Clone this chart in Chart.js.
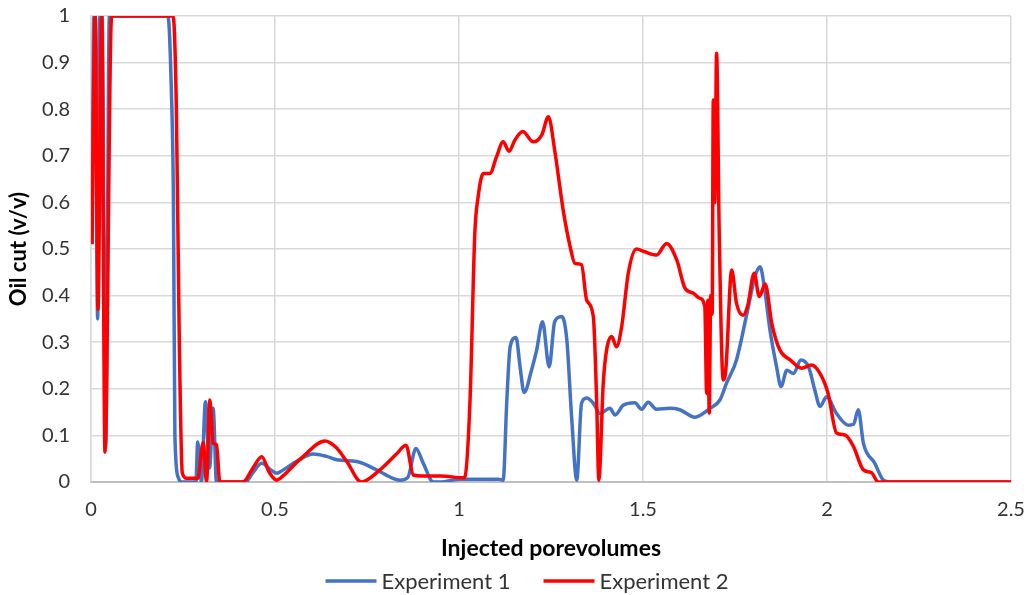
<!DOCTYPE html>
<html>
<head>
<meta charset="utf-8">
<script src="https://cdn.jsdelivr.net/npm/chart.js@4/dist/chart.umd.min.js"></script>
<style>
  html, body { margin: 0; padding: 0; background: #ffffff; }
  #wrap { width: 1027px; height: 595px; }
</style>
</head>
<body>
<div id="wrap"><canvas id="c" width="1027" height="595"></canvas></div>
<script>
// Injected porevolumes (x) and oil cut (y) for each experiment
const exp1X = [0.003,0.008,0.012,0.018,0.024,0.03,0.04,0.05,0.06,0.1,0.15,0.209,0.218,0.224,0.228,0.237,0.245,0.28,0.285,0.29,0.30,0.311,0.322,0.332,0.341,0.42,0.44,0.464,0.49,0.505,0.514,0.56,0.604,0.64,0.672,0.722,0.776,0.82,0.84,0.861,0.883,0.903,0.93,0.948,1.003,1.039,1.107,1.12,1.13,1.139,1.155,1.166,1.177,1.197,1.211,1.227,1.245,1.26,1.279,1.293,1.306,1.32,1.333,1.347,1.365,1.383,1.41,1.424,1.447,1.478,1.496,1.514,1.537,1.573,1.6,1.641,1.682,1.709,1.727,1.754,1.782,1.804,1.818,1.832,1.845,1.863,1.875,1.891,1.909,1.929,1.95,1.967,1.981,1.999,2.026,2.058,2.072,2.085,2.099,2.13,2.153,2.17,2.5];
const exp1Y = [0.55,1,1,0.35,1,1,0.08,1,1,1,1,1,0.85,0.6,0.1,0.01,0,0,0,0.086,0,0.172,0.03,0.158,0,0,0.02,0.04,0.025,0.019,0.022,0.045,0.06,0.055,0.047,0.044,0.026,0.008,0.004,0.01,0.072,0.04,0,0,0.006,0.006,0.006,0.004,0.176,0.29,0.31,0.247,0.192,0.24,0.283,0.344,0.247,0.344,0.355,0.305,0.14,0.004,0.169,0.18,0.169,0.147,0.158,0.144,0.165,0.17,0.156,0.171,0.156,0.158,0.155,0.139,0.158,0.176,0.212,0.262,0.36,0.44,0.462,0.405,0.326,0.247,0.205,0.24,0.233,0.262,0.247,0.197,0.162,0.183,0.147,0.122,0.124,0.155,0.083,0.04,0.004,0,0];

const exp2X = [0.003,0.011,0.019,0.029,0.038,0.056,0.1,0.15,0.223,0.232,0.24,0.248,0.26,0.29,0.305,0.314,0.323,0.332,0.341,0.35,0.413,0.44,0.464,0.485,0.505,0.514,0.57,0.636,0.665,0.695,0.735,0.785,0.83,0.856,0.876,0.9,0.95,1.012,1.016,1.03,1.043,1.052,1.066,1.084,1.102,1.12,1.136,1.152,1.173,1.202,1.225,1.243,1.26,1.283,1.302,1.315,1.333,1.347,1.365,1.374,1.38,1.392,1.401,1.415,1.428,1.442,1.46,1.482,1.505,1.537,1.564,1.592,1.614,1.637,1.655,1.668,1.673,1.676,1.68,1.684,1.688,1.691,1.695,1.7,1.707,1.718,1.725,1.741,1.754,1.772,1.785,1.802,1.816,1.832,1.85,1.872,1.9,1.931,1.958,1.981,2.003,2.026,2.049,2.072,2.099,2.121,2.139,2.5];
const exp2Y = [0.51,1,0.37,1,0.064,1,1,1,1,0.8,0.3,0.02,0.008,0.008,0.085,0,0.176,0.083,0.08,0,0,0.03,0.054,0.02,0.004,0.008,0.05,0.088,0.075,0.044,0,0.026,0.06,0.079,0.015,0.013,0.013,0.009,0.011,0.176,0.534,0.612,0.662,0.662,0.698,0.73,0.71,0.734,0.752,0.73,0.745,0.784,0.712,0.584,0.505,0.469,0.466,0.39,0.355,0.176,0.004,0.212,0.283,0.312,0.29,0.333,0.448,0.5,0.494,0.487,0.512,0.476,0.416,0.405,0.394,0.376,0.19,0.39,0.148,0.4,0.36,0.82,0.6,0.92,0.54,0.219,0.24,0.455,0.384,0.358,0.38,0.448,0.398,0.425,0.34,0.283,0.262,0.244,0.251,0.233,0.19,0.105,0.101,0.076,0.026,0.02,0,0];

const seriesNames = ['Experiment 1', 'Experiment 2'];
const xTicks = [0, 0.5, 1, 1.5, 2, 2.5];
const yTicks = [0, 0.1, 0.2, 0.3, 0.4, 0.5, 0.6, 0.7, 0.8, 0.9, 1];

const toPoints = (xs, ys) => xs.map((x, i) => ({ x: x, y: ys[i] }));
const FONT = 'Lato, "Open Sans", sans-serif';
const TEXT = '#333333';

// Legend row under the axis title: a line sample followed by the series name
const bottomLegend = {
  id: 'bottomLegend',
  afterDraw(chart) {
    const ctx = chart.ctx;
    const sets = chart.data.datasets;
    const lineLen = 51, gapText = 5, gapItem = 33, cy = 581, centerX = 527;
    ctx.save();
    ctx.font = '22px ' + FONT;
    ctx.textBaseline = 'middle';
    ctx.textAlign = 'left';
    const widths = sets.map(d => lineLen + gapText + ctx.measureText(d.label).width);
    const total = widths.reduce((a, b) => a + b, 0) + gapItem * (sets.length - 1);
    let x = centerX - total / 2;
    sets.forEach((d, i) => {
      ctx.strokeStyle = d.borderColor;
      ctx.lineWidth = 3.5;
      ctx.lineCap = 'butt';
      ctx.beginPath();
      ctx.moveTo(x, cy);
      ctx.lineTo(x + lineLen, cy);
      ctx.stroke();
      ctx.fillStyle = TEXT;
      ctx.fillText(d.label, x + lineLen + gapText, cy + 1);
      x += widths[i] + gapItem;
    });
    ctx.restore();
  }
};

new Chart(document.getElementById('c'), {
  type: 'line',
  data: {
    datasets: [
      {
        label: seriesNames[0],
        data: toPoints(exp1X, exp1Y),
        borderColor: '#4472C4',
        backgroundColor: '#4472C4',
        borderWidth: 3.5,
        pointRadius: 0,
        cubicInterpolationMode: 'monotone',
        order: 1
      },
      {
        label: seriesNames[1],
        data: toPoints(exp2X, exp2Y),
        borderColor: '#FF0000',
        backgroundColor: '#FF0000',
        borderWidth: 3.5,
        pointRadius: 0,
        cubicInterpolationMode: 'monotone',
        order: 0
      }
    ]
  },
  plugins: [bottomLegend],
  options: {
    responsive: false,
    animation: false,
    events: [],
    layout: { padding: { top: 16, right: 16, bottom: 30, left: 0 } },
    plugins: {
      tooltip: { enabled: false },
      legend: { display: false }
    },
    scales: {
      x: {
        type: 'linear',
        min: 0,
        max: 2.5,
        afterBuildTicks: (s) => { s.ticks = xTicks.map(v => ({ value: v })); },
        afterFit: (s) => { s.height = 83; },
        grid: { color: '#d9d9d9', lineWidth: 1.5, drawTicks: true, tickLength: 14, tickColor: 'rgba(0,0,0,0)' },
        border: { color: '#bfbfbf', width: 2 },
        ticks: { color: TEXT, font: { family: FONT, size: 20 }, padding: 2, maxRotation: 0,
                 callback: (v) => String(v) },
        title: { display: true, text: 'Injected porevolumes', color: '#000000',
                 font: { family: FONT, size: 23, weight: 'bold' }, padding: { top: 0, bottom: 3 } }
      },
      y: {
        min: 0,
        max: 1,
        afterBuildTicks: (s) => { s.ticks = yTicks.map(v => ({ value: v })); },
        afterFit: (s) => { s.width = 91; },
        grid: { color: '#d9d9d9', lineWidth: 1.5, drawTicks: true, tickLength: 18, tickColor: 'rgba(0,0,0,0)' },
        border: { color: '#d9d9d9', width: 1.5 },
        ticks: { color: TEXT, font: { family: FONT, size: 20 }, padding: 3,
                 callback: (v) => String(v) },
        title: { display: true, text: 'Oil cut (v/v)', color: '#000000',
                 font: { family: FONT, size: 22, weight: 'bold' }, padding: { top: 6, bottom: 0 } }
      }
    }
  }
});
</script>
</body>
</html>
